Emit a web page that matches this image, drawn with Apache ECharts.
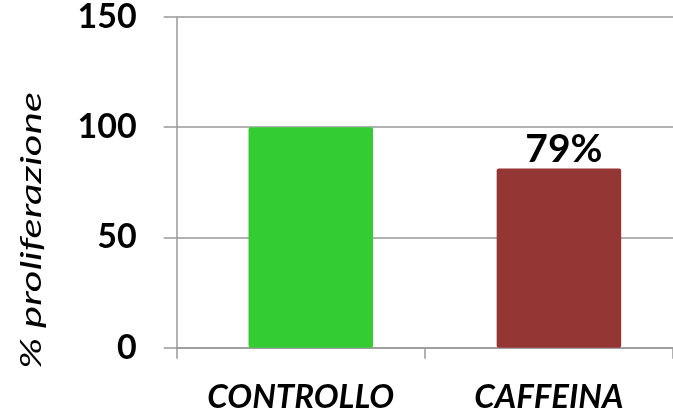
<!DOCTYPE html>
<html><head><meta charset="utf-8">
<script src="https://cdn.jsdelivr.net/npm/echarts@6/dist/echarts.min.js"></script>
<style>html,body{margin:0;padding:0;background:#fff}#c{width:673px;height:419px}</style>
</head><body><div id="c"></div>
<script>
const categories = ['CONTROLLO', 'CAFFEINA'];
const values = [100, 81.3];
const barLabels = ['', '79%'];
const barColors = ['#33CC33', '#943634'];
const yTicks = [0, 50, 100, 150];
const yName = '% proliferazione';

const chart = echarts.init(document.getElementById('c'));
chart.setOption({
  animation: false,
  grid: {left: 176.7, width: 498, top: 15.7, bottom: 71.3, containLabel: false},
  xAxis: {
    type: 'category', data: categories,
    axisLine: {show: true, lineStyle: {color: '#999', width: 1.5}},
    axisTick: {show: true, alignWithLabel: false, length: 11, lineStyle: {color: '#999', width: 1.5}},
    axisLabel: {margin: 33, fontFamily: 'Lato', fontWeight: 'bold', fontStyle: 'italic', fontSize: 33, color: '#000'}
  },
  yAxis: {
    type: 'value', min: yTicks[0], max: yTicks[yTicks.length-1], interval: 50,
    axisLine: {show: true, lineStyle: {color: '#999', width: 1.5}},
    axisTick: {show: true, length: 13, lineStyle: {color: '#999', width: 1.5}},
    splitLine: {show: true, lineStyle: {color: '#999', width: 1.5}},
    axisLabel: {margin: 40, fontFamily: 'Lato', fontWeight: 'bold', fontSize: 34, color: '#000'}
  },
  graphic: [{
    type: 'text', left: 18, top: 92, rotation: Math.PI/2, scaleX: 1.5,
    style: {text: yName, fontFamily: 'Lato', fontStyle: 'italic', fontSize: 28, fill: '#000'}
  }],
  series: [{
    type: 'bar', name: 'spacer', barWidth: 20, silent: true,
    data: categories.map(() => null)
  }, {
    type: 'bar', barWidth: 124.5, barGap: '0%',
    data: values.map((v, i) => ({value: v, itemStyle: {color: barColors[i], borderRadius: 2},
      label: {show: !!barLabels[i], formatter: barLabels[i]}})),
    label: {position: 'top', distance: 0, offset: [5, 0], fontFamily: 'Lato', fontWeight: 'bold', fontSize: 39, color: '#000'}
  }]
});
</script></body></html>
